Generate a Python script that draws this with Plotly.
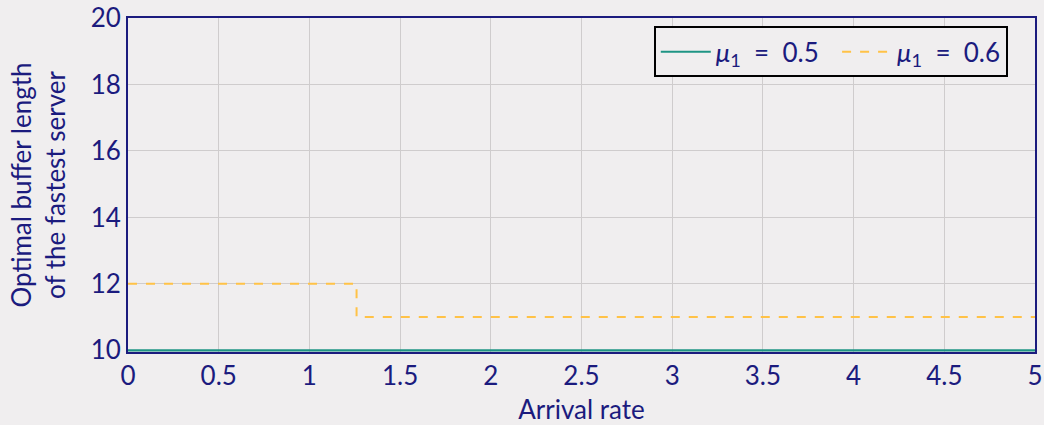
import plotly.graph_objects as go

# Arrival rate values where the optimal buffer length changes
arrival_rate = [0.0, 1.26, 5.0]
buffer_mu_05 = [10, 10, 10]
buffer_mu_06 = [12, 11, 11]

x_ticks = [0, 0.5, 1, 1.5, 2, 2.5, 3, 3.5, 4, 4.5, 5]
x_tick_text = ["0", "0.5", "1", "1.5", "2", "2.5", "3", "3.5", "4", "4.5", "5"]
y_ticks = [10, 12, 14, 16, 18, 20]

NAVY = "#1b1b7e"
BG = "#f0eeef"
FONT = "Lato, 'DejaVu Sans', sans-serif"
FS = 26

fig = go.Figure()
fig.add_trace(go.Scatter(
    x=arrival_rate, y=buffer_mu_05, mode="lines", line_shape="hv",
    line=dict(color="#1f9484", width=2.2),
    name="<i>μ</i><sub>1</sub>  =  0.5  ", cliponaxis=False,
))
fig.add_trace(go.Scatter(
    x=arrival_rate, y=buffer_mu_06, mode="lines", line_shape="hv",
    line=dict(color="#ffc247", width=2, dash="dash"),
    name="<i>μ</i><sub>1</sub>  =  0.6", cliponaxis=False,
))

fig.update_layout(
    width=1044, height=425,
    margin=dict(l=128, r=9, t=18, b=73, autoexpand=False),
    paper_bgcolor=BG, plot_bgcolor=BG,
    font=dict(family=FONT, color=NAVY, size=FS),
    legend=dict(
        orientation="h", x=0.970, y=0.975, xanchor="right", yanchor="top",
        bgcolor=BG, bordercolor="black", borderwidth=2,
        font=dict(size=FS, color=NAVY), itemwidth=50,
    ),
    xaxis=dict(
        range=[0, 5], tickvals=x_ticks, ticktext=x_tick_text,
        showgrid=True, gridcolor="#cfcccd", gridwidth=1,
        showline=True, linecolor=NAVY, linewidth=2, mirror=True,
        zeroline=False, ticks="", ticklen=0, automargin=False,
        layer="below traces",
        title=dict(text="Arrival rate", standoff=14, font=dict(size=FS)),
        tickfont=dict(size=FS),
    ),
    yaxis=dict(
        range=[9.95, 20], tickvals=y_ticks,
        showgrid=True, gridcolor="#cfcccd", gridwidth=1,
        showline=True, linecolor=NAVY, linewidth=2, mirror=True,
        zeroline=False, ticks="", ticklen=0, automargin=False,
        layer="below traces",
        title=dict(text="Optimal buffer length<br>of the fastest server", standoff=18, font=dict(size=FS)),
        tickfont=dict(size=FS),
    ),
)

fig.write_html("out.html")
